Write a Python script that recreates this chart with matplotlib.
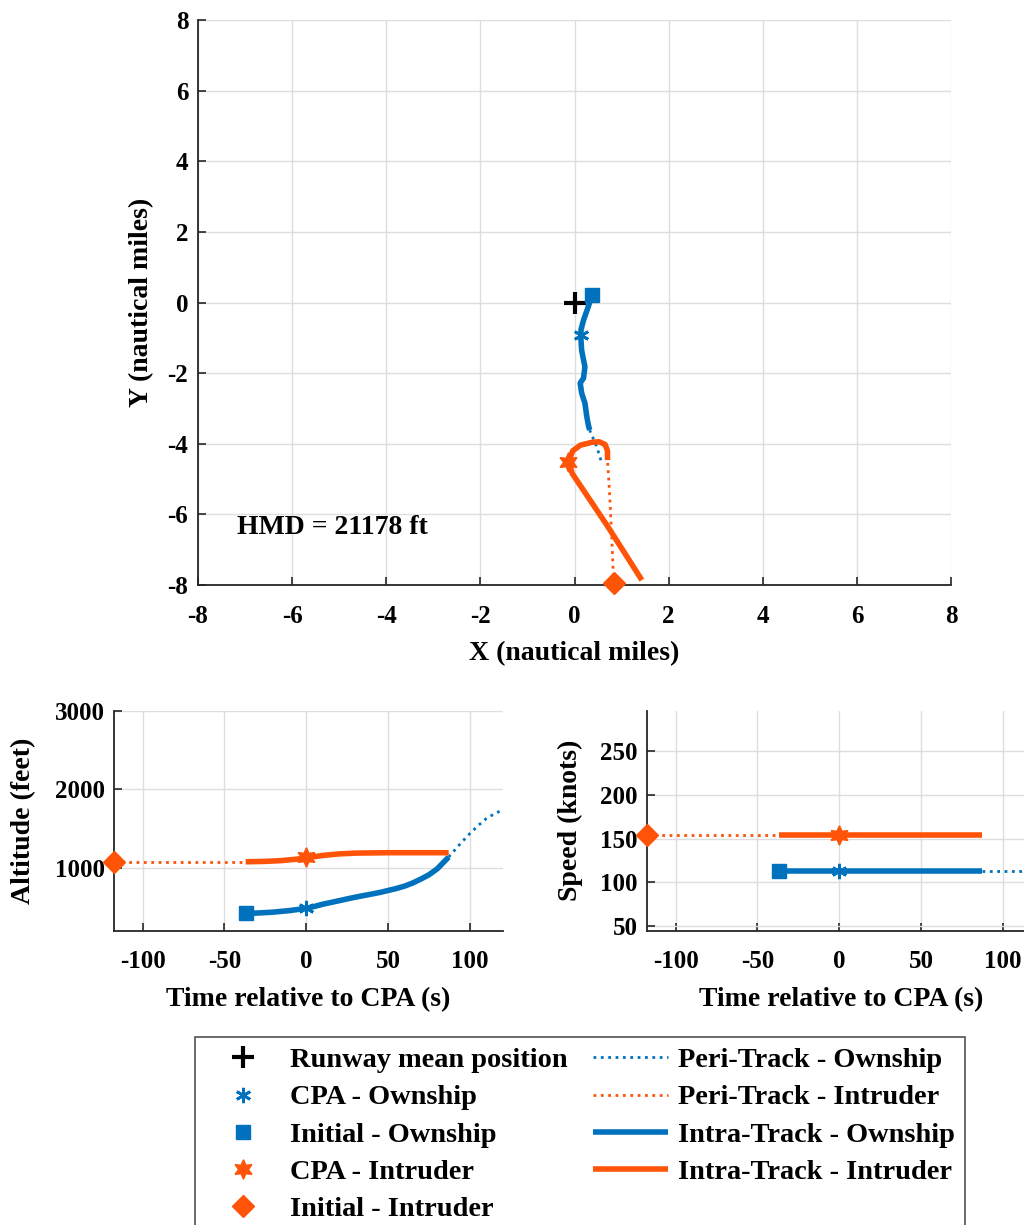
import matplotlib
matplotlib.use('Agg')
import matplotlib.pyplot as plt
from matplotlib.lines import Line2D

plt.rcParams['font.family'] = ['Liberation Serif', 'DejaVu Serif']
plt.rcParams['font.weight'] = 'bold'
plt.rcParams['axes.labelweight'] = 'bold'
plt.rcParams['axes.unicode_minus'] = False
plt.rcParams['font.size'] = 18

BLUE = '#0072BD'
ORANGE = '#FF5308'

# ground track (nautical miles)
runway_xy = (0.0, 0.0)
own_init_xy = (0.37, 0.21)
own_cpa_xy = (0.13, -0.92)
int_init_xy = (0.84, -7.95)
int_cpa_xy = (-0.13, -4.51)

own_intra_x = [0.37, 0.29, 0.19, 0.14, 0.13, 0.15, 0.22, 0.19, 0.12, 0.15, 0.22, 0.26, 0.29, 0.32]
own_intra_y = [0.21, -0.12, -0.50, -0.75, -0.92, -1.35, -1.82, -2.14, -2.28, -2.56, -2.85, -3.23, -3.45, -3.61]
own_peri_x = [0.32, 0.47, 0.58]
own_peri_y = [-3.61, -4.08, -4.55]

int_peri_x = [0.84, 0.825, 0.79, 0.74, 0.70]
int_peri_y = [-7.95, -7.77, -6.63, -5.31, -4.46]
int_intra_x = [0.70, 0.70, 0.65, 0.52, 0.36, 0.12, -0.04, -0.10, -0.10, -0.05, 0.70, 1.43]
int_intra_y = [-4.46, -4.20, -4.02, -3.94, -3.96, -4.04, -4.20, -4.42, -4.60, -4.84, -6.33, -7.86]

hmd_text = 'HMD = 21178 ft'

# altitude vs time (s, feet)
t_own_intra = [-37, -30, -20, -10, 0, 5, 10, 15, 20, 25, 30, 35, 40, 45, 50, 55, 60, 65, 70, 75, 80, 87]
alt_own_intra = [424, 428, 440, 460, 488, 512, 540, 562, 585, 608, 630, 650, 670, 690, 715, 740, 770, 810, 860, 915, 990, 1140]
t_own_peri = [87, 95, 100, 105, 110, 115, 120]
alt_own_peri = [1140, 1330, 1440, 1540, 1630, 1690, 1740]
t_int_peri = [-117.3, -37]
alt_int_peri = [1080, 1080]
t_int_intra = [-37, -25, -15, -5, 0, 5, 10, 20, 30, 50, 70, 87]
alt_int_intra = [1080, 1085, 1095, 1115, 1130, 1145, 1160, 1180, 1190, 1195, 1195, 1195]
alt_own_cpa = 488
alt_int_cpa = 1135

# speed vs time (s, knots)
spd_own = 113
spd_int = 154
t_own_init = -37
t_int_init = -117.3
t_intra_end = 87
t_end = 120

mk = dict(
    runway=dict(marker='+', color='black', markersize=16, mew=3, linestyle='none'),
    own_cpa=dict(marker=(6, 2, 0), color=BLUE, markersize=11, mew=2, linestyle='none'),
    own_init=dict(marker='s', color=BLUE, markersize=10, linestyle='none'),
    int_cpa=dict(marker=(6, 1, 0), color=ORANGE, markersize=14, linestyle='none'),
    int_init=dict(marker='D', color=ORANGE, markersize=11, linestyle='none'),
)
ln = dict(
    own_peri=dict(color=BLUE, lw=2, linestyle=':'),
    int_peri=dict(color=ORANGE, lw=2, linestyle=':'),
    own_intra=dict(color=BLUE, lw=4, linestyle='-', solid_capstyle='butt'),
    int_intra=dict(color=ORANGE, lw=4, linestyle='-', solid_capstyle='butt'),
)


def style(ax):
    ax.grid(True, color='#dedede', lw=1)
    ax.set_axisbelow(True)
    for s in ['top', 'right']:
        ax.spines[s].set_visible(False)
    for s in ['left', 'bottom']:
        ax.spines[s].set_color('#262626')
        ax.spines[s].set_linewidth(1.3)
    ax.tick_params(direction='in', length=6, width=1.2, color='#262626', labelsize=18)
    ax.tick_params(axis='x', pad=14)
    ax.tick_params(axis='y', pad=7)


fig = plt.figure(figsize=(10.24, 12.25), dpi=100)

# main ground-track plot
ax = fig.add_axes([0.1934, 0.5224, 0.7354, 0.4612])
style(ax)
ax.plot(own_peri_x, own_peri_y, **ln['own_peri'])
ax.plot(int_peri_x, int_peri_y, **ln['int_peri'])
ax.plot(own_intra_x, own_intra_y, **ln['own_intra'])
ax.plot(int_intra_x, int_intra_y, **ln['int_intra'])
ax.plot(*runway_xy, **mk['runway'], clip_on=False, zorder=5)
ax.plot(*own_cpa_xy, **mk['own_cpa'], clip_on=False, zorder=5)
ax.plot(*own_init_xy, **mk['own_init'], clip_on=False, zorder=5)
ax.plot(*int_cpa_xy, **mk['int_cpa'], clip_on=False, zorder=5)
ax.plot(*int_init_xy, **mk['int_init'], clip_on=False, zorder=5)
ax.text(-7.17, -6.36, hmd_text, fontsize=20, fontweight='bold', va='center', ha='left')
ax.set_xlim(-8, 8)
ax.set_ylim(-8, 8)
ax.set_xticks(range(-8, 9, 2))
ax.set_yticks(range(-8, 9, 2))
ax.set_xlabel('X (nautical miles)', fontsize=20, labelpad=10)
ax.set_ylabel('Y (nautical miles)', fontsize=20, labelpad=9.5)

# altitude plot
ax2 = fig.add_axes([0.1116, 0.2402, 0.3793, 0.1796])
style(ax2)
ax2.plot(t_own_peri, alt_own_peri, **ln['own_peri'])
ax2.plot(t_int_peri, alt_int_peri, **ln['int_peri'])
ax2.plot(t_own_intra, alt_own_intra, **ln['own_intra'])
ax2.plot(t_int_intra, alt_int_intra, **ln['int_intra'])
ax2.plot(0, alt_own_cpa, **mk['own_cpa'], clip_on=False, zorder=5)
ax2.plot(t_own_init, alt_own_intra[0], **mk['own_init'], clip_on=False, zorder=5)
ax2.plot(0, alt_int_cpa, **mk['int_cpa'], clip_on=False, zorder=5)
ax2.plot(t_int_init, alt_int_peri[0], **mk['int_init'], clip_on=False, zorder=5)
ax2.set_xlim(t_int_init, t_end)
ax2.set_ylim(203, 3000)
ax2.set_xticks([-100, -50, 0, 50, 100])
ax2.set_yticks([1000, 2000, 3000])
ax2.set_xlabel('Time relative to CPA (s)', fontsize=20, labelpad=10)
ax2.set_ylabel('Altitude (feet)', fontsize=20, labelpad=13)

# speed plot
ax3 = fig.add_axes([0.6321, 0.2402, 0.3793, 0.1796])
style(ax3)
ax3.plot([t_intra_end, t_end], [spd_own, spd_own], **ln['own_peri'])
ax3.plot([t_int_init, t_own_init], [spd_int, spd_int], **ln['int_peri'])
ax3.plot([t_own_init, t_intra_end], [spd_own, spd_own], **ln['own_intra'])
ax3.plot([t_own_init, t_intra_end], [spd_int, spd_int], **ln['int_intra'])
ax3.plot(0, spd_own, **mk['own_cpa'], clip_on=False, zorder=5)
ax3.plot(t_own_init, spd_own, **mk['own_init'], clip_on=False, zorder=5)
ax3.plot(0, spd_int, **mk['int_cpa'], clip_on=False, zorder=5)
ax3.plot(t_int_init, spd_int, **mk['int_init'], clip_on=False, zorder=5)
ax3.set_xlim(t_int_init, t_end)
ax3.set_ylim(44.6, 296)
ax3.set_xticks([-100, -50, 0, 50, 100])
ax3.set_yticks([50, 100, 150, 200, 250])
ax3.set_xlabel('Time relative to CPA (s)', fontsize=20, labelpad=10)
ax3.set_ylabel('Speed (knots)', fontsize=20, labelpad=12)

# legend
handles = [
    Line2D([], [], **mk['runway']),
    Line2D([], [], **mk['own_cpa']),
    Line2D([], [], **mk['own_init']),
    Line2D([], [], **mk['int_cpa']),
    Line2D([], [], **mk['int_init']),
    Line2D([], [], **ln['own_peri']),
    Line2D([], [], **ln['int_peri']),
    Line2D([], [], **ln['own_intra']),
    Line2D([], [], **ln['int_intra']),
]
labels = ['Runway mean position', 'CPA - Ownship', 'Initial - Ownship',
          'CPA - Intruder', 'Initial - Intruder',
          'Peri-Track - Ownship', 'Peri-Track - Intruder',
          'Intra-Track - Ownship', 'Intra-Track - Intruder']
leg = fig.legend(handles, labels, ncol=2, loc='upper left',
                 bbox_to_anchor=(195.4 / 1024, 1 - 1037.3 / 1225),
                 fontsize=20.4, frameon=True, fancybox=False, edgecolor='#262626',
                 handlelength=2.65, handletextpad=0.33, columnspacing=0.9,
                 labelspacing=0.4, borderpad=0.36, borderaxespad=0)
leg.get_frame().set_linewidth(1.2)

fig.savefig('out.png', dpi=100)
